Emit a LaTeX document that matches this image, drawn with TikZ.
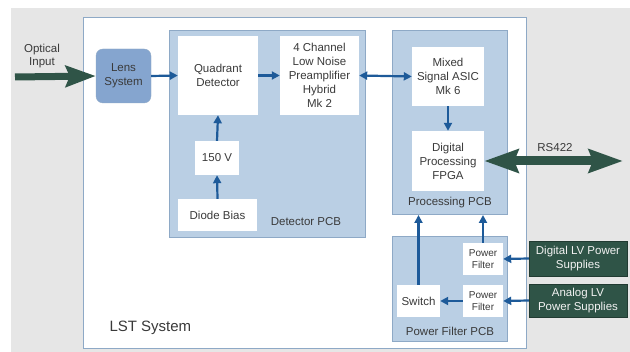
\documentclass[tikz,border=0pt]{standalone}
\usepackage{fontspec}
\setmainfont{Liberation Sans}
\usetikzlibrary{arrows.meta}
\usetikzlibrary{positioning}
\definecolor{bggray}{HTML}{E6E6E6}
\definecolor{pcbblue}{HTML}{BACFE4}
\definecolor{pcbedge}{HTML}{8EA9C6}
\definecolor{lensblue}{HTML}{85A5CF}
\definecolor{flowblue}{HTML}{1D5A99}
\definecolor{supgreen}{HTML}{2F5447}
\definecolor{txtgray}{HTML}{3A3A3A}

\begin{document}
\begin{tikzpicture}
  [x=1pt,y=-1pt,
  font=\fontsize{11.5}{14}\selectfont,text=txtgray,
  pcb/.style={draw=pcbedge,fill=pcbblue,line width=1pt},
  block/.style={rectangle,fill=white,inner sep=0pt,align=center},
  supply/.style={rectangle,fill=supgreen,draw=supgreen!70!black,text=white!90!gray,inner sep=0pt,align=center},
  flow/.style={draw=flowblue,line width=2.2pt,-{Triangle[length=8pt,width=8pt]}},
  bigflow/.style={draw=supgreen,line width=7pt}]
  \useasboundingbox (0,0) rectangle (630,352);
  \fill[bggray] (11,8) rectangle (630,352);

  % system and boards
  \draw[fill=white,draw=pcbedge,line width=1pt] (83,18) rectangle (526,349);
  \path[pcb] (169,31) rectangle (365,238);
  \path[pcb] (392,31) rectangle (507,215);
  \path[pcb] (392,237) rectangle (507,342);

  \node[anchor=west,font=\fontsize{15}{18}\selectfont] (lstlbl) at (106,328) {LST System};
  \node (detlbl) at (306,222) {Detector PCB};
  \node (proclbl) at (450,203) {Processing PCB};
  \node (pwrlbl) at (450,331) {Power Filter PCB};

  % blocks
  \node[block,fill=lensblue,draw=pcbedge,rounded corners=7pt,minimum width=55,minimum height=54] (lens) at (123.5,76) {Lens\\System};
  \node[block,minimum width=80,minimum height=79] (quad) at (218,75.5) {Quadrant\\Detector};
  \node[block,minimum width=79,minimum height=79] (chan) at (319.5,75.5) {4 Channel\\Low Noise\\Preamplifier\\Hybrid\\Mk 2};
  \node[block,minimum width=44,minimum height=34] (hv) at (217,158) {150 V};
  \node[block,minimum width=79,minimum height=32] (bias) at (217.5,215) {Diode Bias};
  \node[block,minimum width=72,minimum height=59] (asic) at (448,76.5) {Mixed\\Signal ASIC\\Mk 6};
  \node[block,minimum width=72,minimum height=60] (fpga) at (448,161) {Digital\\Processing\\FPGA};
  \node[block,minimum width=40,minimum height=32,font=\fontsize{10}{12.5}\selectfont] (pfa) at (483,259) {Power\\Filter};
  \node[block,minimum width=40,minimum height=32,font=\fontsize{10}{12.5}\selectfont] (pfb) at (483,301) {Power\\Filter};
  \node[block,minimum width=43,minimum height=32] (switch) at (418.5,301) {Switch};
  \node[supply,minimum width=98,minimum height=35] (dlv) at (578,258.5) {Digital LV Power\\Supplies};
  \node[supply,minimum width=98,minimum height=33] (alv) at (578,300.5) {Analog LV\\Power Supplies};

  % outside connections
  \coordinate (optin) at (15,77);
  \coordinate (rsend) at (623,161);
  \node[align=center] (optlbl) at (42,56) {Optical\\[-1pt]Input};
  \node (rslbl) at (555,148) {RS422};
  \draw[bigflow,-{Stealth[length=30pt,width=21pt,inset=4pt]}] (optin) -- (lens.west);
  \draw[bigflow,line width=9pt,{Stealth[length=34pt,width=23pt,inset=4pt]}-{Stealth[length=34pt,width=23pt,inset=4pt]}] (fpga.east) -- (rsend);

  % signal flow
  \draw[flow] (lens.east) -- (quad.west);
  \draw[flow] (quad.east) -- (chan.west);
  \draw[flow,{Triangle[length=8pt,width=8pt]}-{Triangle[length=8pt,width=8pt]}] (chan.east) -- (asic.west);
  \draw[flow] (bias.north) -- (hv.south);
  \draw[flow] (hv.north) -- (quad.south);
  \draw[flow] (asic.south) -- (fpga.north);

  % power
  \draw[flow] (dlv.west) -- (pfa.east);
  \draw[flow] (alv.west) -- (pfb.east);
  \draw[flow] (pfb.west) -- (switch.east);
  \draw[flow] (switch.north) -- (switch.north |- 0,215);
  \draw[flow] (pfa.north) -- (pfa.north |- 0,215);
\end{tikzpicture}
\end{document}
